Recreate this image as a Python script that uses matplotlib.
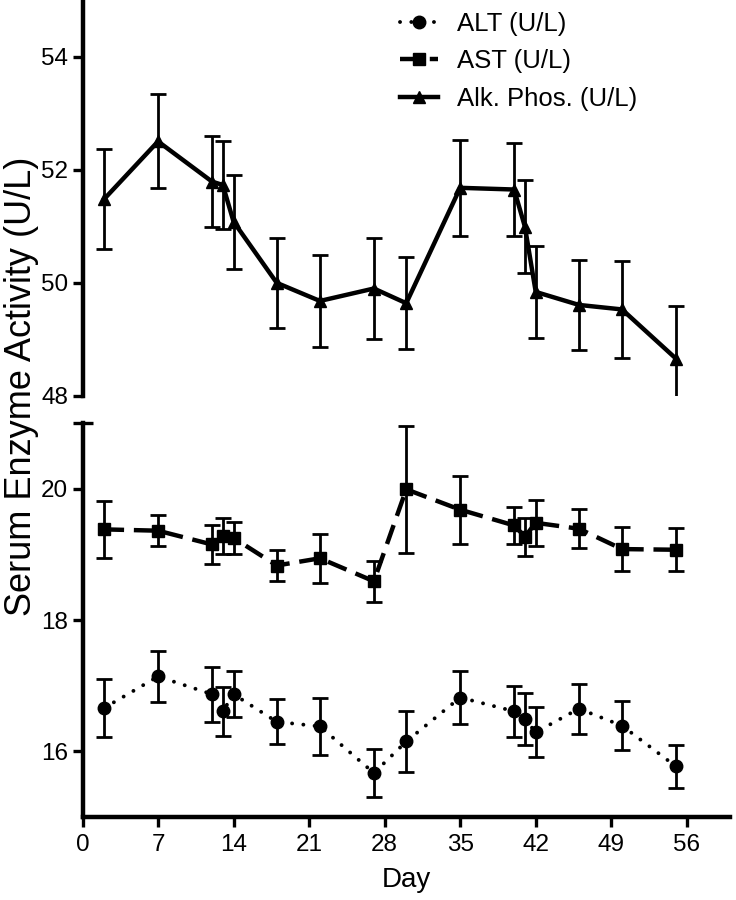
import matplotlib
matplotlib.use('Agg')
import matplotlib.pyplot as plt
from matplotlib.ticker import FixedLocator
from matplotlib.lines import Line2D

plt.rcParams['font.family'] = ['Liberation Sans', 'DejaVu Sans']

# 데이터
days = [2, 7, 12, 13, 14, 18, 22, 27, 30, 35, 40, 41, 42, 46, 50, 55]

alt = [16.66, 17.14, 16.87, 16.61, 16.87, 16.45, 16.38, 15.67, 16.15, 16.82, 16.61, 16.49, 16.29, 16.65, 16.39, 15.77]
alt_err = [0.44, 0.39, 0.42, 0.37, 0.35, 0.34, 0.44, 0.36, 0.47, 0.40, 0.39, 0.40, 0.38, 0.38, 0.37, 0.33]

ast = [19.38, 19.36, 19.15, 19.28, 19.25, 18.83, 18.94, 18.59, 19.99, 19.68, 19.44, 19.27, 19.48, 19.39, 19.08, 19.07]
ast_err = [0.43, 0.24, 0.30, 0.28, 0.25, 0.23, 0.37, 0.31, 0.97, 0.52, 0.28, 0.29, 0.35, 0.30, 0.34, 0.33]

alk = [51.48, 52.50, 51.79, 51.73, 51.08, 50.00, 49.68, 49.90, 49.64, 51.68, 51.65, 50.99, 49.84, 49.61, 49.53, 48.66]
alk_err = [0.89, 0.83, 0.81, 0.78, 0.83, 0.79, 0.82, 0.90, 0.81, 0.85, 0.82, 0.82, 0.81, 0.80, 0.85, 0.93]

x_ticks = [0, 7, 14, 21, 28, 35, 42, 49, 56]
top_ticks = [48, 50, 52, 54]
bottom_ticks = [16, 18, 20]

fig = plt.figure(figsize=(7.36, 9.0), dpi=100)
ax_top = fig.add_axes([0.1121, 0.56, 0.8797, 0.44])
ax_bot = fig.add_axes([0.1121, 0.0922, 0.8797, 0.4378])

spine_w = 3.2
err_kw = dict(ecolor='black', elinewidth=2.0, capsize=5.6, capthick=2.0)

# 선 스타일
alt_style = dict(color='black', lw=2.8, ls=(0, (0.01, 2.9)),
                 dash_capstyle='round', marker='o', ms=9)
ast_style = dict(color='black', lw=3.2, ls=(0, (4.5, 2.2)), marker='s', ms=8.5)
alk_style = dict(color='black', lw=3.2, ls='-', marker='^', ms=8)

# 아래 패널: ALT, AST
ax_bot.errorbar(days, alt, yerr=alt_err, **alt_style, **err_kw)
ax_bot.errorbar(days, ast, yerr=ast_err, **ast_style, **err_kw)

# 위 패널: Alk. Phos.
ax_top.errorbar(days, alk, yerr=alk_err, **alk_style, **err_kw)

for ax in (ax_top, ax_bot):
    ax.set_xlim(0, 60)
    ax.spines['top'].set_visible(False)
    ax.spines['right'].set_visible(False)
    ax.spines['left'].set_linewidth(spine_w)
    ax.spines['bottom'].set_linewidth(spine_w)
    ax.tick_params(which='major', direction='out', length=7.5, width=2.4,
                   labelsize=17.5, pad=3)
    ax.tick_params(which='minor', direction='inout', length=15, width=2.4)
    ax.set_facecolor('none')

ax_top.set_ylim(48, 55)
ax_top.set_yticks(top_ticks)
ax_top.yaxis.set_minor_locator(FixedLocator([48]))
ax_top.spines['bottom'].set_visible(False)
ax_top.xaxis.set_visible(False)

ax_bot.set_ylim(15, 21)
ax_bot.set_yticks(bottom_ticks)
ax_bot.yaxis.set_minor_locator(FixedLocator([21]))
ax_bot.xaxis.set_minor_locator(FixedLocator([]))
ax_bot.set_xticks(x_ticks)
ax_bot.tick_params(axis='x', pad=5)
ax_bot.set_xlabel('Day', fontsize=20, labelpad=8)

fig.text(0.029, 0.571, 'Serum Enzyme Activity (U/L)', rotation=90,
         ha='center', va='center', fontsize=26)

# 범례 (오차막대 없이)
handles = [Line2D([], [], **alt_style), Line2D([], [], **ast_style),
           Line2D([], [], **alk_style)]
labels = ['ALT (U/L)', 'AST (U/L)', 'Alk. Phos. (U/L)']
fig.legend(handles, labels, loc='upper left',
           bbox_to_anchor=(0.5435, 0.987), frameon=False, fontsize=18.5,
           handlelength=1.48, handletextpad=0.75, labelspacing=0.53,
           borderpad=0, borderaxespad=0)

plt.savefig('out.png', dpi=100, facecolor='white')
plt.close()
print("Saved: out.png")
